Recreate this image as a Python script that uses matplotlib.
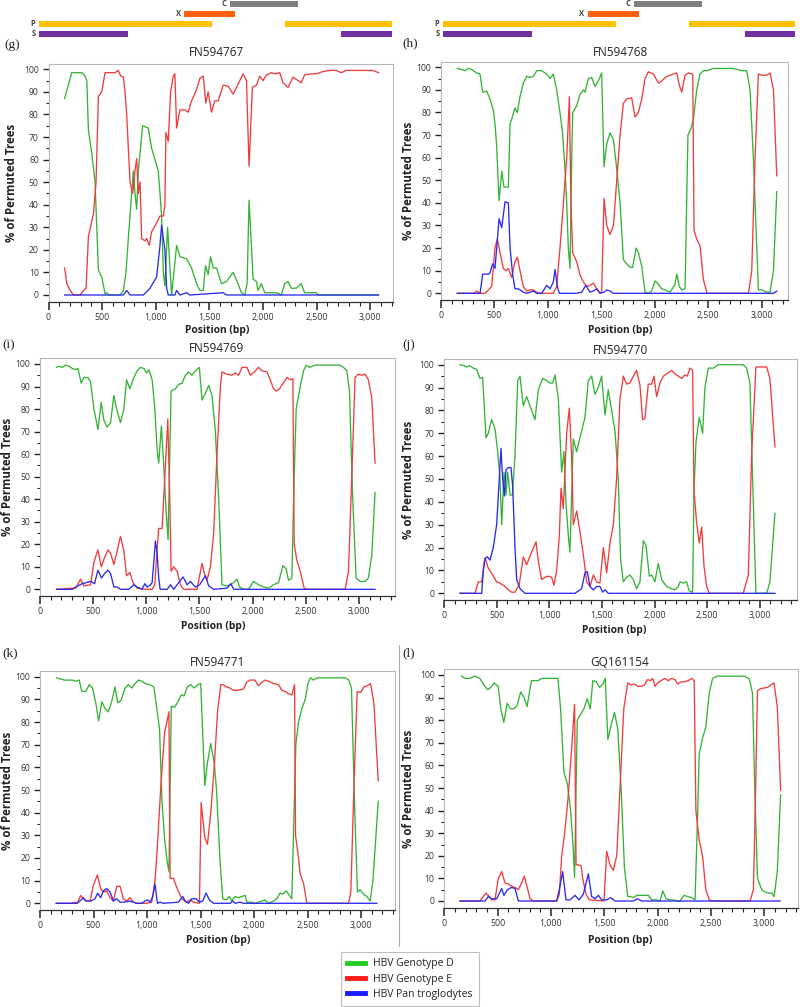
import matplotlib
matplotlib.use('Agg')
import matplotlib.pyplot as plt
from matplotlib.ticker import MultipleLocator, FuncFormatter
from matplotlib.lines import Line2D

plt.rcParams['font.family'] = ['Open Sans', 'DejaVu Sans']

# ---------------- data ----------------
series_names = ['HBV Genotype D', 'HBV Genotype E', 'HBV Pan troglodytes']
series_colors = ['#36b236', '#f03c3c', '#2a2aee']
legend_colors = ['#22cc22', '#ff1a1a', '#1a1aff']

titles = ['FN594767', 'FN594768', 'FN594769', 'FN594770', 'FN594771', 'GQ161154']
letters = ['(g)', '(h)', '(i)', '(j)', '(k)', '(l)']

gene_names = ['C', 'X', 'P', 'S']
gene_colors = ['#808080', '#ff6010', '#ffc000', '#7030a0']
gene_segments = [[(1742, 2362)], [(1323, 1788)], [(0, 1578), (2243, 3215)], [(0, 812), (2755, 3215)]]
genome_length = 3215

g_D = [(150,87),(217,98.5),(310,98.5),(341,97),(357,95),(372,73),(403,63),(434,50),(465,11),(496,8),(527,0.5),(545,1),(558,0),(667,0),(698,2),(722,10),(744,25),(775,45),(791,55),(806,45),(822,38),(837,55),(877,75),(930,74),(961,65),(992,60),(1023,55),(1039,45),(1054,35),(1070,10),(1085,4),(1110,30),(1147,0),(1194,22),(1225,17),(1287,16),(1333,12),(1380,5),(1411,2),(1442,2),(1463,13),(1488,9),(1510,17),(1535,12),(1566,12),(1612,5),(1659,6),(1721,10),(1767,5),(1798,1),(1829,0),(1851,5),(1869,42),(1907,7),(1938,6),(1953,2),(1984,5),(2015,1),(2124,1),(2170,0),(2201,5),(2232,6),(2263,3),(2310,3),(2356,5),(2387,1),(2496,1),(2511,0),(3075,0)]
g_E = [(150,12),(171,5),(202,2),(233,0),(295,0),(326,2),(350,3),(372,26),(419,36),(443,50),(465,88),(496,90),(527,98.5),(620,98.5),(651,99.5),(673,97),(698,96.5),(713,90),(729,80),(744,65),(760,50),(784,45),(806,55),(822,60.5),(837,45),(853,50),(868,25),(899,24),(915,25),(939,22),(961,28),(1008,32),(1039,35),(1070,35),(1085,40),(1094,72),(1116,68),(1138,90),(1163,97),(1178,98),(1194,74),(1225,82),(1271,82),(1302,81),(1333,86),(1380,91),(1411,96),(1442,97),(1466,85),(1488,90),(1519,81),(1550,86),(1581,86),(1628,93),(1674,92.5),(1721,89),(1783,95),(1814,98),(1845,95),(1869,57),(1900,92),(1938,93),(1969,97),(2000,95),(2031,97.5),(2077,98.5),(2108,98),(2155,98.5),(2186,94),(2232,92),(2279,96.5),(2356,94),(2387,97.5),(2449,98),(2496,98),(2558,99),(2620,99.5),(2682,99.5),(2728,98.5),(2775,99.5),(3023,99.5),(3075,98.5)]
g_P = [(150,0),(698,0),(729,2),(760,0),(884,0),(946,3),(1008,8),(1039,22),(1054,31),(1085,20),(1101,3),(1116,0),(1178,0),(1194,2),(1225,0),(1287,1),(1318,0),(1628,1),(1659,0),(3075,0)]

h_D = [(153,99.5),(193,99),(225,98.5),(256,99.5),(287,99),(334,97.5),(365,97),(390,89),(427,89.5),(458,86),(490,81),(505,75),(521,65),(543,41),(568,54),(589,47),(630,47),(646,75),(661,77),(692,82),(714,80),(739,87),(770,93),(802,96),(833,95.5),(864,96),(895,98.5),(942,98.5),(989,97),(1020,95),(1051,97),(1082,90),(1113,80),(1135,72),(1160,55),(1176,40),(1191,20),(1207,11),(1223,60),(1232,80),(1269,83),(1301,88),(1332,90),(1347,89),(1379,95),(1410,95.5),(1441,91.5),(1472,94),(1503,97.5),(1525,56),(1550,66),(1581,71),(1613,68),(1644,55),(1675,40),(1706,15),(1737,13),(1768,11.5),(1793,11.5),(1825,20),(1846,18),(1878,12),(1909,0.5),(1940,0),(1971,1),(2002,5.5),(2034,4),(2065,2),(2096,1.5),(2143,0.5),(2190,4),(2205,8.5),(2230,3),(2252,1.5),(2283,2),(2310,70),(2340,73),(2361,77),(2392,90),(2423,97),(2455,98.5),(2486,98.5),(2548,99.5),(2735,99.5),(2813,98.5),(2860,98.5),(2891,90),(2922,60),(2969,1.5),(3000,1.5),(3047,0.5),(3078,0.5),(3110,10),(3141,45)]
h_E = [(153,0),(309,0),(334,1),(365,0),(412,0),(443,1.5),(474,3),(505,20),(527,24),(552,18),(583,11),(608,10),(630,11),(661,7),(692,14),(714,16),(739,10),(770,3),(802,1),(833,1.5),(864,1.5),(895,0.5),(926,0),(1051,0),(1082,3),(1113,20),(1145,40),(1176,60),(1201,87),(1215,40),(1232,18),(1269,14),(1301,8),(1332,5),(1363,3),(1394,3.5),(1425,4.5),(1457,2),(1488,0),(1503,1),(1525,42),(1550,30),(1581,26),(1613,30),(1644,50),(1675,70),(1706,84),(1737,86),(1784,86.5),(1815,78),(1846,80),(1878,86),(1909,95),(1940,98),(1987,97),(2034,93),(2065,94),(2112,96),(2174,97),(2205,97.5),(2230,92),(2252,89),(2283,96.5),(2314,97.5),(2355,97),(2367,28),(2392,24),(2423,21),(2455,6),(2490,0),(2876,0),(2907,10),(2938,60),(2969,97),(3000,96.5),(3047,96.5),(3078,97.5),(3110,90),(3141,52)]
h_P = [(153,0),(365,0),(390,8.5),(443,8.5),(458,9),(483,13),(505,11),(521,20),(543,33),(568,29),(599,40.5),(630,40),(646,20),(671,8),(692,2),(723,2),(770,0.5),(802,0),(833,0.5),(864,1),(895,0),(942,0),(989,3.5),(1020,2),(1051,5),(1067,10.5),(1089,3),(1107,0),(1269,0),(1316,0.5),(1354,3.5),(1394,0.5),(1425,1),(1457,2),(1488,0),(1525,0.5),(1550,1.5),(1581,1),(1613,0),(3110,0),(3141,1)]

i_D = [(156,98.5),(178,99),(210,98.5),(241,99.5),(272,99),(304,98),(335,97.5),(357,98),(388,91.5),(413,94),(451,94),(476,92),(507,80),(545,71),(576,83),(601,75),(632,72),(664,74),(695,86),(726,79),(757,74),(789,80),(814,93),(845,89),(883,94),(914,97),(945,98.5),(977,98),(1002,96),(1024,97.5),(1055,93),(1080,80),(1102,62),(1117,56),(1142,72.5),(1164,55),(1186,35),(1205,22),(1233,88),(1274,89),(1305,91),(1337,91.5),(1368,95),(1399,96.5),(1430,95),(1462,97),(1499,98.5),(1524,84),(1556,87),(1587,90.5),(1618,86),(1650,70),(1681,40),(1712,2),(1759,1.5),(1790,2),(1822,3),(1853,4.5),(1878,1),(1916,0),(1962,0),(2009,3.5),(2056,2),(2103,1),(2150,0.5),(2197,2),(2244,3),(2285,10.5),(2316,9),(2338,4),(2369,5),(2391,50),(2410,80),(2448,90),(2479,97),(2504,99.5),(2535,98.5),(2589,99.5),(2823,99.5),(2855,98.5),(2886,97),(2911,88),(2942,40),(2974,5),(3011,3.5),(3058,3.5),(3089,5),(3121,15),(3152,43)]
i_E = [(156,0),(304,0.5),(335,0.5),(382,4.5),(413,1.5),(476,2),(507,12),(545,17.5),(576,10),(607,14),(639,17.5),(664,16),(695,11),(726,17),(757,23.5),(789,17),(814,6),(845,7.5),(876,3),(914,0.5),(992,0),(1055,0),(1080,2),(1102,18),(1117,27),(1149,27),(1180,55),(1202,75.5),(1221,40),(1233,8),(1258,10),(1290,8),(1321,2),(1352,0),(1477,0),(1502,6),(1524,11.5),(1546,7),(1571,4),(1603,10),(1634,25),(1665,60),(1697,90),(1712,96.5),(1759,95.5),(1806,95),(1837,96),(1869,95),(1900,98.5),(1947,98.5),(1978,95),(2016,96.5),(2056,98.5),(2088,97),(2135,96.5),(2166,93),(2197,89),(2222,88),(2254,89),(2322,94),(2354,93),(2379,93.5),(2391,20),(2416,13),(2448,8),(2485,0.5),(2510,0),(2870,0),(2902,8),(2933,50),(2964,94),(2995,95.5),(3027,95),(3058,95.5),(3089,93),(3121,85),(3152,56)]
i_P = [(156,0),(304,0),(335,1),(398,2.5),(476,3.5),(513,2.5),(545,8.5),(579,5),(607,7),(639,8.5),(664,7),(695,1),(726,1),(757,0),(836,0),(883,2),(914,1),(961,0),(986,2.5),(1008,1),(1039,2),(1055,3),(1086,21.5),(1102,16),(1117,5),(1130,0),(1196,0),(1227,2),(1258,0),(1305,3),(1346,5.5),(1384,2),(1415,3.5),(1462,1),(1502,2),(1556,6),(1587,1.5),(1634,0),(1759,0.5),(1796,2.5),(1822,0),(3152,0)]

j_D = [(152,100),(199,99.5),(215,99),(247,99.5),(278,98.5),(310,98),(342,94),(367,94.5),(399,68),(421,70),(453,76),(484,72),(510,62),(532,50),(548,30),(570,53),(589,43),(605,53),(627,43),(649,43),(674,60),(700,93),(722,95),(753,82),(785,86),(832,80),(864,76),(896,89),(937,94),(975,93),(1006,92),(1032,92),(1054,95.5),(1086,85),(1117,53),(1139,62),(1158,40),(1181,25),(1196,18),(1228,67.5),(1260,62),(1291,68),(1339,77),(1370,93),(1402,95),(1434,87),(1465,90),(1497,95),(1529,78),(1560,89),(1592,80),(1624,71),(1655,50),(1677,15),(1703,5),(1734,7),(1766,8),(1798,6),(1829,2),(1861,5),(1893,23),(1918,21),(1950,7.5),(1972,8),(2003,5),(2035,13),(2067,6),(2114,3),(2162,2),(2193,1.5),(2225,3),(2241,5),(2273,4.5),(2304,5),(2329,1),(2361,0.5),(2374,45),(2393,66),(2424,77),(2456,70),(2478,90),(2510,98.5),(2557,98.5),(2605,100),(2842,100),(2874,98.5),(2905,92),(2931,50),(2962,0),(3064,0),(3095,5),(3143,35)]
j_E = [(152,0),(294,0),(326,5),(358,5),(389,15.5),(421,11),(462,8),(500,5),(532,4.5),(579,3),(611,1.5),(642,0.5),(674,0.5),(715,4),(753,16),(785,12.5),(832,18),(874,22.5),(896,14),(927,6),(959,7),(991,7.5),(1022,7),(1044,3.5),(1070,10),(1095,25),(1111,46),(1133,37),(1165,70),(1190,81),(1212,60),(1228,30),(1260,36),(1291,27),(1323,17),(1355,5),(1386,3),(1418,8),(1450,5),(1481,4.5),(1513,20),(1545,9),(1576,22),(1608,30),(1639,50),(1671,85),(1703,95),(1734,91.5),(1766,92),(1798,95),(1829,97.5),(1861,91),(1886,76),(1908,76.5),(1940,91.5),(1972,91.5),(1994,95),(2019,86),(2051,92),(2083,95),(2114,96),(2162,97.5),(2193,96),(2225,95),(2257,94),(2288,95.5),(2310,95),(2336,98.5),(2361,97.5),(2374,45),(2399,31),(2424,22),(2447,29),(2469,12),(2494,3),(2519,0),(2842,0),(2890,8),(2921,60),(2962,99),(3064,99),(3095,94),(3143,64)]
j_P = [(152,0),(358,0),(373,10),(389,15),(411,16),(437,14.5),(468,20),(500,30),(525,50),(541,63.5),(557,50),(573,42.5),(589,54),(611,55),(636,55),(652,47),(674,20),(690,6),(722,2),(769,0),(1244,0),(1307,2),(1339,9),(1361,9.5),(1386,3),(1418,1.5),(1450,3),(1481,3),(1507,0.5),(1529,1.5),(1560,0),(3143,0)]

k_D = [(156,99.5),(194,99),(225,98.5),(304,98.5),(335,98),(366,98.5),(391,93.5),(429,93.5),(460,96.5),(491,95),(523,88),(548,80.5),(579,89),(607,86),(639,84.5),(670,89),(701,95.5),(726,88.5),(757,89.5),(795,95),(826,96.5),(858,95),(889,97),(920,98.5),(952,98),(983,97),(1024,96.5),(1064,95.5),(1086,88),(1117,77),(1140,45),(1165,28),(1190,18),(1205,14),(1227,87),(1258,86.5),(1290,89),(1321,92),(1346,91.5),(1377,95.5),(1409,96.5),(1440,95),(1477,96.5),(1502,97),(1540,52),(1565,62),(1596,70.5),(1628,62),(1650,50),(1681,20),(1708,2),(1739,1.5),(1770,3),(1792,1),(1823,3),(1855,2.5),(1886,3),(1917,3.5),(1933,0.5),(1979,0.5),(2010,0),(2042,0.5),(2073,1),(2104,1.5),(2135,0),(2182,1),(2213,2),(2244,4.5),(2269,4),(2300,5.5),(2322,4),(2353,2),(2369,30),(2391,70),(2416,80),(2448,86),(2479,90),(2504,97),(2526,99.5),(2557,98.5),(2589,99.5),(2855,99.5),(2886,98.5),(2911,95),(2942,40),(2967,5),(2992,6),(3023,4),(3055,3),(3086,1),(3111,10),(3133,25),(3161,45)]
k_E = [(156,0),(296,0),(327,0.5),(349,0),(380,3.5),(405,2),(430,1),(468,1),(499,8),(536,12.5),(570,6),(598,5),(623,5.5),(655,2.5),(686,1),(717,7.5),(748,7.5),(779,2),(810,1),(842,2.5),(873,0.5),(904,0),(997,0),(1044,0.5),(1075,10),(1097,25),(1127,50),(1164,75),(1205,84.5),(1216,11),(1247,11),(1278,7),(1325,2),(1371,0.5),(1403,1.5),(1434,0.5),(1490,0),(1506,44.5),(1540,29),(1565,26),(1596,40),(1628,60),(1660,85),(1690,96.5),(1712,96.5),(1743,95.5),(1775,95),(1806,94),(1853,94),(1900,94.5),(1931,97.5),(1962,98.5),(2009,98.5),(2041,96),(2072,97.5),(2103,98.5),(2135,98),(2182,97),(2229,96.5),(2260,94),(2291,93.5),(2322,92.5),(2354,92),(2379,96.5),(2388,30),(2416,20),(2431,13),(2462,9),(2494,0),(2883,0),(2905,5),(2933,50),(2964,93.5),(2995,93),(3027,95.5),(3058,96),(3089,97),(3121,88),(3161,54)]
k_P = [(150,0),(343,0),(374,1),(405,2.5),(430,1),(474,1),(514,2),(539,4.5),(567,2.5),(592,5.5),(623,6.5),(655,5),(686,1),(717,2),(748,0.5),(785,0.5),(842,1),(904,0),(951,0),(982,1),(1007,1.5),(1029,0.5),(1054,3),(1075,8.5),(1097,0),(1122,0.5),(1153,0),(1294,0.5),(1334,3),(1356,1),(1387,0),(1418,2),(1459,2),(1490,0.5),(1521,1),(1552,4.5),(1583,1.5),(1621,0),(1777,0),(1801,1),(1823,0),(1870,0.5),(1901,0),(3148,0)]

l_D = [(162,99.5),(193,98.5),(240,98.5),(287,99.5),(333,98.5),(380,95),(405,93.5),(436,94.5),(467,96.5),(505,95),(530,85),(558,79),(589,87.5),(620,85),(651,85),(682,86.5),(716,92.5),(748,90),(776,86),(816,97.5),(879,97.5),(910,98.5),(941,98.5),(1065,98.5),(1090,85),(1121,57),(1153,52),(1184,40),(1206,25),(1221,10.5),(1246,80),(1277,82.5),(1308,85),(1339,89.5),(1368,85),(1392,97.5),(1424,97),(1455,94.5),(1486,96),(1508,98.5),(1533,71.5),(1564,78),(1595,83.5),(1626,76),(1657,50),(1688,15),(1719,2),(1741,2),(1772,1.5),(1803,2.5),(1850,2.5),(1913,2.5),(1944,0.5),(1991,0.5),(2022,0),(2047,4.5),(2078,1),(2116,0.5),(2147,0.5),(2178,0),(2209,0),(2247,2.5),(2278,2),(2319,1.5),(2350,0.5),(2375,40),(2389,65),(2420,72),(2451,77),(2483,92),(2514,98.5),(2561,99.5),(2810,99.5),(2857,98.5),(2888,92),(2910,50),(2935,10),(2975,5),(3006,4),(3038,3.5),(3069,3.5),(3091,2),(3121,13),(3152,47)]
l_E = [(147,0),(334,0),(366,2),(391,3.5),(413,2.5),(444,0.5),(475,0.5),(506,10),(538,13),(569,8),(600,7.5),(631,6.5),(663,6),(694,5),(725,8),(750,11),(772,7),(803,1),(834,0),(1053,0),(1078,3),(1100,20),(1128,30),(1159,45),(1190,65),(1221,87),(1235,16),(1259,16),(1283,15.5),(1297,10),(1328,3),(1359,0.5),(1497,0),(1522,22),(1553,16),(1584,13.5),(1616,20),(1647,50),(1682,85),(1719,96.5),(1751,95.5),(1782,96),(1813,95),(1844,95),(1875,95.5),(1906,98),(1931,97.5),(1953,98.5),(1975,95),(2000,96.5),(2031,97.5),(2068,98.5),(2100,97.5),(2131,98.5),(2162,98),(2187,96),(2218,97),(2255,97),(2286,97.5),(2318,98.5),(2342,97.5),(2358,40),(2389,27),(2420,20),(2451,5),(2483,0.5),(2522,0),(2866,0),(2897,5),(2918,50),(2935,93),(2966,94),(3028,94.5),(3090,96.5),(3121,86),(3152,49)]
l_P = [(147,0),(381,0),(413,2),(444,1),(491,1),(538,5.5),(559,2.5),(591,5),(631,6),(663,5.5),(694,0),(1053,0),(1078,5),(1109,13),(1141,0.5),(1178,0.5),(1225,2.5),(1263,0.5),(1303,3),(1350,12),(1381,2),(1413,1),(1444,2.5),(1475,0.5),(1522,0.5),(1559,1.5),(1600,0),(1772,0),(1809,1),(1850,0),(3147,0)]

panel_series = [(g_D, g_E, g_P), (h_D, h_E, h_P), (i_D, i_E, i_P),
                (j_D, j_E, j_P), (k_D, k_E, k_P), (l_D, l_E, l_P)]
x_max = [3215, 3246, 3340, 3352, 3318, 3315]

# ---------------- layout (pixels) ----------------
W, H = 800, 1007
fig = plt.figure(figsize=(W / 100, H / 100), dpi=100)

# x pixel of bp 0, px per bp, y pixel of 0 %, y pixel of 100 %
geo = [(48.5, 0.1073, 295.0, 69.3),
       (441.0, 0.1069, 293.3, 67.3),
       (40.0, 0.1063, 589.3, 364.0),
       (444.0, 0.1053, 593.3, 364.7),
       (40.0, 0.1070, 903.3, 676.7),
       (444.3, 0.1067, 901.0, 675.0)]
title_pos = [(217, 53), (620, 53), (217, 348), (620, 350), (218, 662), (620, 662)]
letter_pos = [(12, 45), (410, 43), (9, 345), (409, 345), (10, 653), (409, 653)]
ylabel_x = [12, 408, 8, 408, 8, 408]
xlabel_pos = [(217, 331), (620, 331), (213, 627), (614, 631), (218, 940), (620, 940)]
YLO, YHI = -3.0, 102.5


def frac_rect(l, t, r, b):
    return [l / W, 1 - b / H, (r - l) / W, (b - t) / H]


fmt = FuncFormatter(lambda v, p: f'{int(round(v)):,}')

for idx in range(6):
    x0, kx, y0, y100 = geo[idx]
    s = (y0 - y100) / 100.0
    left = x0
    right = x0 + x_max[idx] * kx
    bottom = y0 - YLO * s
    top = y100 - (YHI - 100) * s
    ax = fig.add_axes(frac_rect(left, top, right, bottom))
    for ser, col in zip(panel_series[idx], series_colors):
        xs = [p[0] for p in ser]
        ys = [p[1] for p in ser]
        ax.plot(xs, ys, color=col, lw=0.95, solid_joinstyle='round')
    ax.set_xlim(0, x_max[idx])
    ax.set_ylim(YLO, YHI)
    ax.xaxis.set_major_locator(MultipleLocator(500))
    ax.xaxis.set_minor_locator(MultipleLocator(100))
    ax.yaxis.set_minor_locator(MultipleLocator(5))
    ax.set_yticks(range(0, 101, 10))
    ax.xaxis.set_major_formatter(fmt)
    for sp in ['top', 'right', 'left']:
        ax.spines[sp].set_color('#b8b8b8')
        ax.spines[sp].set_linewidth(0.8)
    ax.spines['bottom'].set_color('#333333')
    ax.spines['bottom'].set_linewidth(0.9)
    ax.tick_params(axis='x', which='major', length=6, width=1.1, color='#222222',
                   labelsize=6.3, labelcolor='#333333', pad=2)
    ax.tick_params(axis='x', which='minor', length=3.2, width=0.8, color='#222222')
    ax.tick_params(axis='y', which='major', length=4.5, width=1.0, color='#222222',
                   labelsize=6.2, labelcolor='#333333', pad=2.5)
    ax.tick_params(axis='y', which='minor', length=2.5, width=0.8, color='#222222')

    tx, ty = title_pos[idx]
    fig.text(tx / W, 1 - ty / H, titles[idx], ha='center', va='center',
             fontsize=8.5, color='#222222')
    lx, ly = letter_pos[idx]
    fig.text(lx / W, 1 - ly / H, letters[idx], ha='center', va='center',
             fontsize=9.5, family=['Liberation Serif', 'DejaVu Serif'], color='#222222')
    fig.text(ylabel_x[idx] / W, 1 - ((bottom + top) / 2) / H, '% of Permuted Trees',
             rotation=90, ha='center', va='center', fontsize=8.3, fontweight='bold',
             color='#222222')
    xx, xy = xlabel_pos[idx]
    fig.text(xx / W, 1 - xy / H, 'Position (bp)', ha='center', va='center',
             fontsize=7.4, fontweight='bold', color='#222222')

# ---------------- gene maps ----------------
for (gl, gr) in [(39, 392), (443, 795)]:
    gax = fig.add_axes(frac_rect(gl, 0, gr, 38))
    gax.set_xlim(0, genome_length)
    gax.set_ylim(3.4, -0.4)
    gax.axis('off')
    for row, (name, col, segs) in enumerate(zip(gene_names, gene_colors, gene_segments)):
        for (a, b) in segs:
            gax.barh(row, b - a, left=a, height=0.6, color=col, edgecolor='none')
        first = segs[0][0]
        gax.annotate(name, (first, row), xytext=(-2.5, 0), textcoords='offset points',
                     ha='right', va='center', fontsize=5.5, fontweight='bold',
                     color='#444444')

# separator line
sep = fig.add_axes(frac_rect(397, 645, 401, 947))
sep.axis('off')
sep.set_xlim(0, 1)
sep.set_ylim(0, 1)
sep.axvline(0.5, color='#a8a8a8', lw=0.8)

# ---------------- legend ----------------
leg_handles = [Line2D([], [], color=c, lw=3.5) for c in legend_colors]
leg = fig.legend(leg_handles, series_names, loc='upper left',
                 bbox_to_anchor=(341 / W, 1 - 952 / H), frameon=True, fancybox=False,
                 edgecolor='#b0b0b0', fontsize=7.5, handlelength=1.7,
                 handletextpad=0.8, borderpad=0.6, labelspacing=0.42,
                 borderaxespad=0)
leg.get_frame().set_linewidth(0.8)
for t in leg.get_texts():
    t.set_color('#222222')

fig.savefig('out.png', dpi=100)
